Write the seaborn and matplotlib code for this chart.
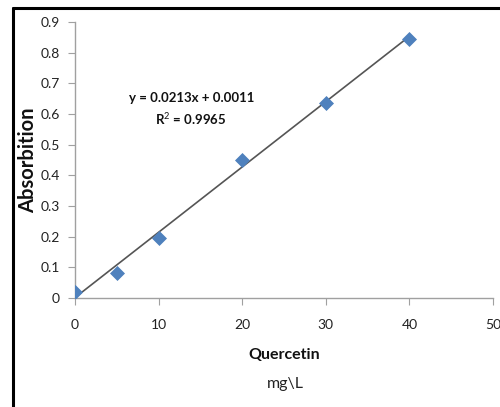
import matplotlib
matplotlib.use("Agg")
import matplotlib.pyplot as plt
import seaborn as sns
import numpy as np
import pandas as pd
from matplotlib.lines import Line2D

conc = [0, 5, 10, 20, 30, 40]
absorb = [0.02, 0.08, 0.195, 0.45, 0.635, 0.845]
slope = 0.0213
intercept = 0.0011
eq_text = "y = 0.0213x + 0.0011"
r2_text = "R$^2$ = 0.9965"
xticks = [0, 10, 20, 30, 40, 50]
yticks = [0, 0.1, 0.2, 0.3, 0.4, 0.5, 0.6, 0.7, 0.8, 0.9]

sns.set_style("white")
plt.rcParams['font.family'] = ['Lato', 'DejaVu Sans']
plt.rcParams['mathtext.fontset'] = 'custom'
plt.rcParams['mathtext.rm'] = 'Lato'
plt.rcParams['mathtext.bf'] = 'Lato:bold'

fig = plt.figure(figsize=(5, 4.07), dpi=100)
ax = fig.add_axes([0.15, 0.268, 0.836, 0.678])

df = pd.DataFrame({"conc": conc, "abs": absorb})
fit_x = np.array([min(conc), max(conc)])
fit_y = slope * fit_x + intercept
sns.lineplot(x=fit_x, y=fit_y, ax=ax, color="#555555", lw=1.2, zorder=2)
sns.scatterplot(data=df, x="conc", y="abs", ax=ax, marker="D", s=50,
                color="#4F81BD", edgecolor="#4F81BD", zorder=3)

ax.set_xlim(0, 50)
ax.set_ylim(0, 0.9)
ax.set_xticks(xticks)
ax.set_yticks(yticks)
ax.set_xticklabels([str(v) for v in xticks])
ax.set_yticklabels(["0"] + [f"{v:.1f}" for v in yticks[1:]])
for s in ["top", "right"]:
    ax.spines[s].set_visible(False)
for s in ["left", "bottom"]:
    ax.spines[s].set_color("#A0A0A0")
    ax.spines[s].set_linewidth(1.0)
ax.tick_params(axis="both", which="both", direction="out", length=5,
               color="#A0A0A0", labelsize=10, labelcolor="#222222",
               left=True, bottom=True)
ax.tick_params(axis="y", pad=6)
ax.tick_params(axis="x", pad=10)
ax.set_xlabel("")
ax.set_ylabel("")

fig.text(192 / 500, 1 - 98 / 407, eq_text, ha="center", va="center",
         fontsize=9.5, fontweight="bold", color="#111111")
fig.text(191 / 500, 1 - 119 / 407, r2_text, ha="center", va="center",
         fontsize=9.5, fontweight="bold", color="#111111")

fig.text(28 / 500, 1 - 160 / 407, "Absorbition", rotation=90, ha="center",
         va="center", fontsize=14.5, fontweight="bold", color="#111111")
fig.text(284 / 500, 1 - 355 / 407, "Quercetin", ha="center", va="center",
         fontsize=11.5, fontweight="bold", color="#111111")
fig.text(285 / 500, 1 - 384 / 407, "mg\\L", ha="center", va="center",
         fontsize=11.5, color="#222222")

# outer frame (left and top edges visible)
fig.add_artist(Line2D([13 / 500, 13 / 500], [-0.05, 1 - 8 / 407],
                      transform=fig.transFigure, color="black", lw=2.2))
fig.add_artist(Line2D([13 / 500, 1.05], [1 - 8 / 407, 1 - 8 / 407],
                      transform=fig.transFigure, color="black", lw=2.2))

fig.savefig("out.png", dpi=100)
